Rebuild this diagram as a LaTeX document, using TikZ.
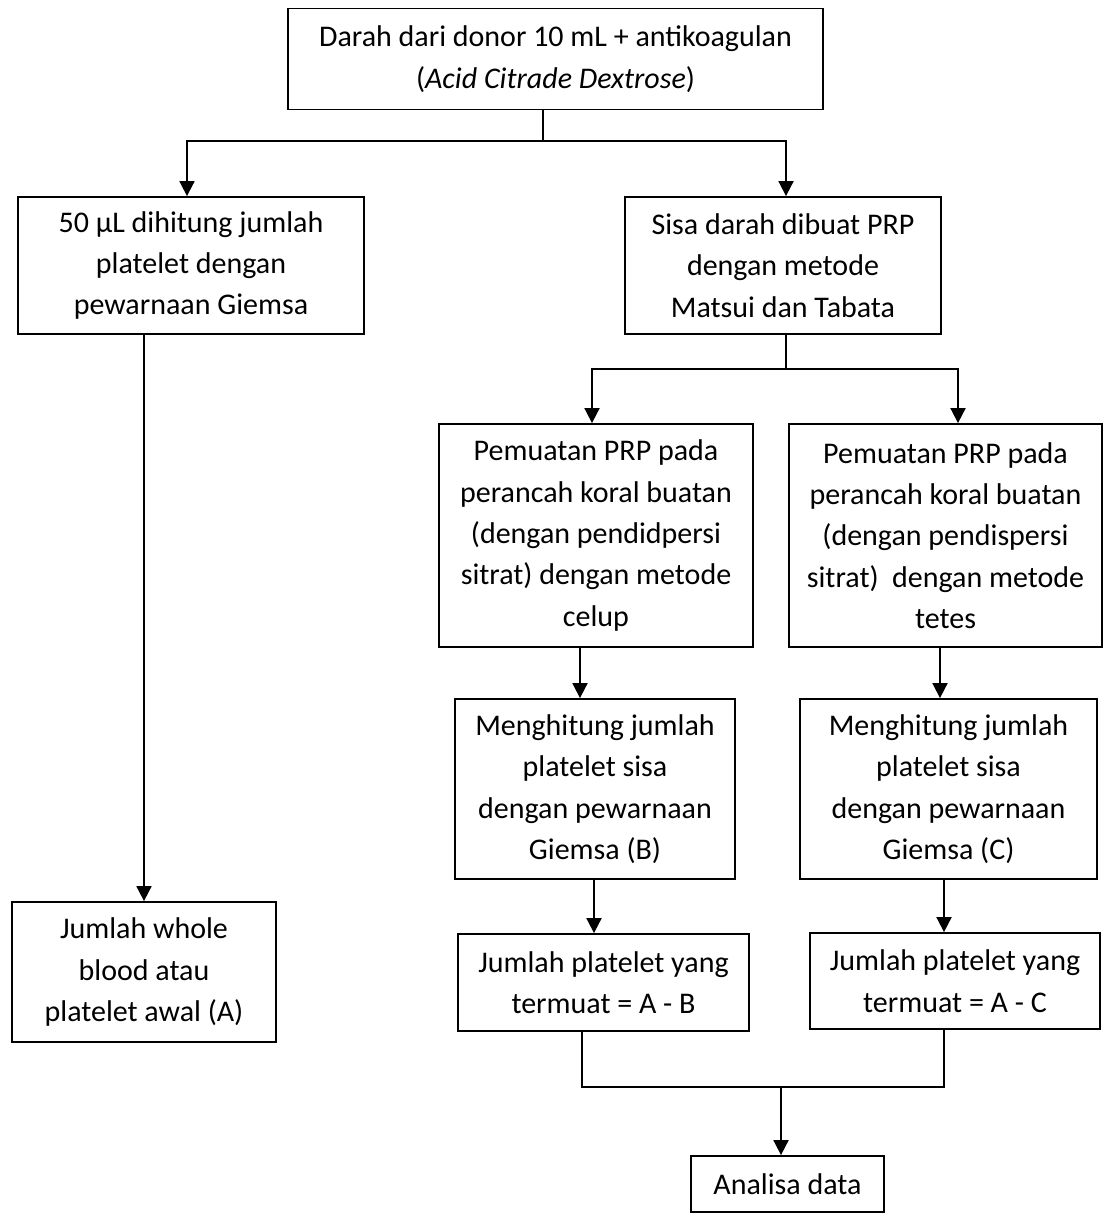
\documentclass[tikz,border=0pt]{standalone}
\usepackage{fontspec}
\setmainfont{Carlito}
\usetikzlibrary{arrows.meta, positioning, calc}

\tikzset{
  box/.style={draw, line width=0.9pt, align=center, inner sep=0pt,
    font=\fontsize{15}{20.7}\selectfont},
  flow/.style={line width=0.9pt, -{Triangle[length=7.5pt, width=7.5pt]}},
  link/.style={line width=0.7pt}
}

\begin{document}
\begin{tikzpicture}[x=0.5pt, y=-0.5pt]
  \useasboundingbox (0,0) rectangle (1104,1214);

  % Top box
  \node[box, minimum width=267.5pt, minimum height=50.5pt] (donor) at (555.5, 59)
    {Darah dari donor 10 mL + antikoagulan\\(\textit{Acid Citrade Dextrose})};

  % First split
  \node[box, minimum width=173pt, minimum height=68.5pt] (giemsa) at (191, 265.5)
    {50 µL dihitung jumlah\\platelet dengan\\pewarnaan Giemsa};
  \node[box, minimum width=158pt, minimum height=68.5pt] (prp) at (783, 265.5)
    {Sisa darah dibuat PRP\\dengan metode\\Matsui dan Tabata};

  % Loading methods
  \node[box, minimum width=157pt, minimum height=111.5pt] (celup) at (596, 535.5)
    {Pemuatan PRP pada\\perancah koral buatan\\(dengan pendidpersi\\sitrat) dengan metode\\celup};
  \node[box, minimum width=156.5pt, minimum height=111.5pt] (tetes) at (945.5, 535.5)
    {Pemuatan PRP pada\\perancah koral buatan\\(dengan pendispersi\\sitrat)~~dengan metode\\tetes};

  % Counting the rest
  \node[box, minimum width=140pt, minimum height=90pt] (sisaB) at (595, 789)
    {Menghitung jumlah\\platelet sisa\\dengan pewarnaan\\Giemsa (B)};
  \node[box, minimum width=148.5pt, minimum height=90pt] (sisaC) at (948.5, 789)
    {Menghitung jumlah\\platelet sisa\\dengan pewarnaan\\Giemsa (C)};

  % Loaded platelets
  \node[box, minimum width=145.5pt, minimum height=48.5pt] (muatB) at (603.5, 982.5)
    {Jumlah platelet yang\\termuat = A - B};
  \node[box, minimum width=145pt, minimum height=48pt] (muatC) at (955, 981)
    {Jumlah platelet yang\\termuat = A - C};

  % Whole blood count
  \node[box, minimum width=132pt, minimum height=70pt] (awal) at (144, 972)
    {Jumlah whole\\blood atau\\platelet awal (A)};

  % Result
  \node[box, minimum width=96.5pt, minimum height=28pt] (data) at (787.5, 1184)
    {Analisa data};

  % Connectors
  \coordinate (s1) at (543, 141);
  \coordinate (s2) at (786, 369);
  \coordinate (s3) at (781, 1087);

  \draw[link] (donor.south -| s1) -- (s1);
  \draw[flow] (s1) -| (187,0 |- giemsa.north);
  \draw[flow] (s1) -| (786,0 |- prp.north);
  \draw[flow] (144,0 |- giemsa.south) -- (144,0 |- awal.north);

  \draw[link] (prp.south -| s2) -- (s2);
  \draw[flow] (s2) -| (592,0 |- celup.north);
  \draw[flow] (s2) -| (958,0 |- tetes.north);

  \draw[flow] (580,0 |- celup.south) -- (580,0 |- sisaB.north);
  \draw[flow] (940,0 |- tetes.south) -- (940,0 |- sisaC.north);
  \draw[flow] (594,0 |- sisaB.south) -- (594,0 |- muatB.north);
  \draw[flow] (944,0 |- sisaC.south) -- (944,0 |- muatC.north);

  \draw[link] (582,0 |- muatB.south) |- (s3);
  \draw[link] (944,0 |- muatC.south) |- (s3);
  \draw[flow] (s3) -- (data.north -| s3);
\end{tikzpicture}
\end{document}
